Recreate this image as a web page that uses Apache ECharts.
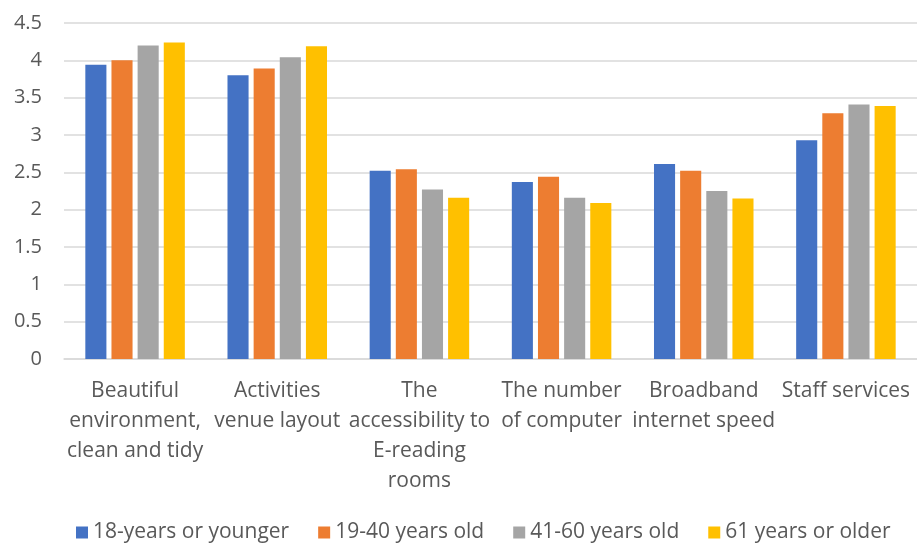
<!DOCTYPE html>
<html>
<head>
<meta charset="utf-8">
<script src="https://cdn.jsdelivr.net/npm/echarts@6/dist/echarts.min.js"></script>
<style>
  html, body { margin: 0; padding: 0; background: #fff; }
  #chart { width: 917px; height: 543px; }
</style>
</head>
<body>
<div id="chart"></div>
<script>
// categories (line breaks as in the original)
const categories = [
  'Beautiful\nenvironment,\nclean and tidy',
  'Activities\nvenue layout',
  'The\naccessibility to\nE-reading\nrooms',
  'The number\nof computer',
  'Broadband\ninternet speed',
  'Staff services'
];

const seriesNames = ['18-years or younger', '19-40 years old', '41-60 years old', '61 years or older'];
const colors = ['#4472C4', '#ED7D31', '#A5A5A5', '#FFC000'];

const under18 = [3.94, 3.80, 2.52, 2.37, 2.61, 2.93];
const age19to40 = [4.00, 3.89, 2.54, 2.44, 2.52, 3.29];
const age41to60 = [4.20, 4.04, 2.27, 2.16, 2.25, 3.41];
const over61 = [4.24, 4.19, 2.16, 2.09, 2.15, 3.39];

const yTicks = [0, 0.5, 1, 1.5, 2, 2.5, 3, 3.5, 4, 4.5];

const font = "'Open Sans', sans-serif";
const chart = echarts.init(document.getElementById('chart'), null, { renderer: 'canvas' });

const values = [under18, age19to40, age41to60, over61];

chart.setOption({
  animation: false,
  textStyle: { fontFamily: font },
  grid: { left: 64, right: 0, top: 23, bottom: 184, containLabel: false },
  legend: {
    data: seriesNames,
    bottom: -5,
    left: 71,
    itemWidth: 12,
    itemHeight: 12,
    itemGap: 29,
    icon: 'rect',
    textStyle: { color: '#595959', fontSize: 21, fontFamily: font }
  },
  xAxis: {
    type: 'category',
    data: categories,
    axisLine: { lineStyle: { color: '#D9D9D9', width: 1.5 } },
    axisTick: { show: false },
    axisLabel: {
      color: '#595959',
      fontSize: 21,
      lineHeight: 30,
      margin: 17,
      interval: 0,
      fontFamily: font
    }
  },
  yAxis: {
    type: 'value',
    min: yTicks[0],
    max: yTicks[yTicks.length - 1],
    interval: 0.5,
    axisLine: { show: false },
    axisTick: { show: false },
    splitLine: { lineStyle: { color: '#D9D9D9', width: 1.5 } },
    axisLabel: {
      color: '#595959',
      fontSize: 20,
      margin: 22,
      fontFamily: font,
      formatter: v => String(v)
    }
  },
  series: seriesNames.map((name, i) => ({
    name: name,
    type: 'bar',
    data: values[i],
    barGap: '24%',
    barCategoryGap: '30%',
    itemStyle: { color: colors[i] }
  }))
});
</script>
</body>
</html>
